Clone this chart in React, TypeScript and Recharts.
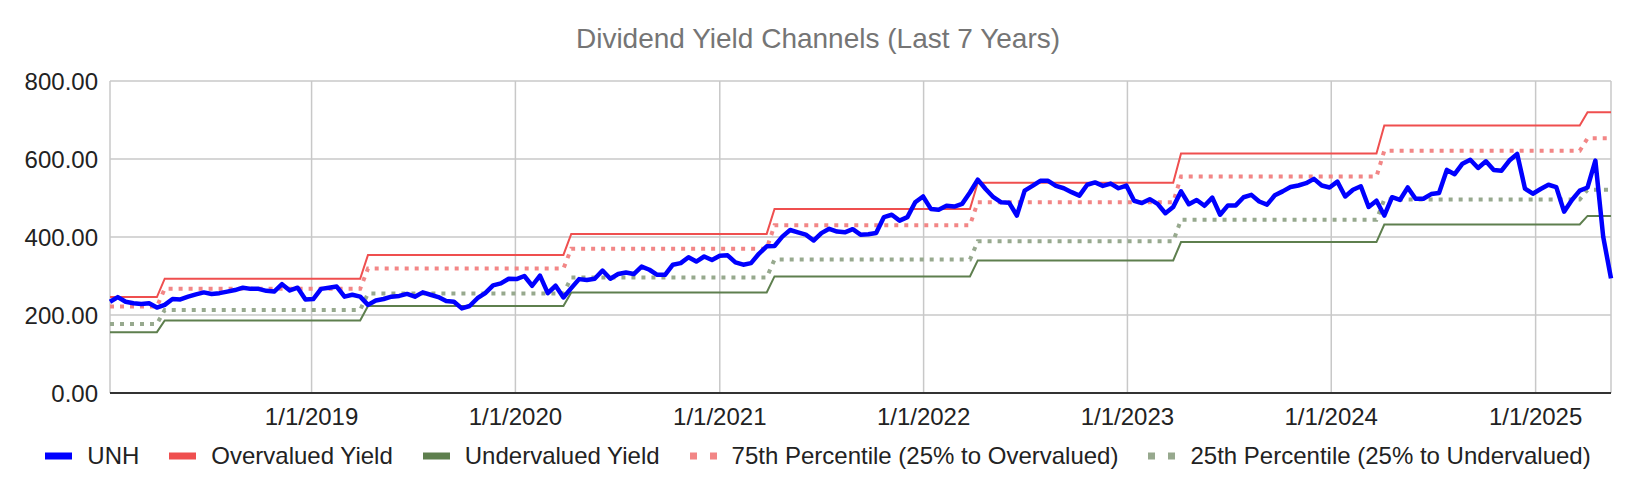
import { LineChart, Line, XAxis, YAxis, CartesianGrid } from 'recharts';

// biweekly closes, first point 1/5/2018
const FIRST_DATE = Date.UTC(2018, 0, 5);
const DAY_MS = 86400000;
const INTERVAL_DAYS = 14;

const UNH = [
  234, 246, 234, 230, 228, 230, 219, 226, 241, 240, 247, 253, 258, 254, 256, 260, 264, 270, 267, 267,
  262, 260, 279, 263, 270, 240, 241, 267, 270, 273, 247, 252, 247, 226, 237, 241, 247, 249, 254, 247,
  258, 252, 246, 236, 234, 217, 223, 243, 256, 276, 281, 293, 292, 300, 275, 301, 256, 275, 245, 269,
  292, 290, 293, 314, 293, 305, 309, 305, 324, 316, 303, 303, 329, 333, 348, 337, 350, 341, 352, 353,
  335, 329, 333, 357, 376, 377, 401, 418, 412, 406, 391, 410, 421, 414, 412, 420, 406, 407, 410, 451,
  457, 442, 451, 489, 504, 472, 470, 480, 478, 485, 514, 547, 523, 502, 489, 488, 455, 519, 531, 544,
  544, 531, 525, 515, 506, 534, 540, 531, 537, 525, 532, 493, 487, 497, 485, 461, 477, 517, 484, 495,
  480, 501, 457, 481, 481, 502, 508, 491, 483, 507, 517, 528, 532, 538, 549, 532, 527, 542, 504, 521,
  530, 477, 493, 455, 502, 495, 527, 498, 498, 510, 513, 572, 561, 588, 598, 577, 594, 572, 570, 596,
  613, 524, 511, 523, 534, 528, 465, 495, 519, 527, 596, 401, 294,
];

// yield channel levels, each valid from its start date
const CHANNEL_STARTS = [
  '2018-01-05', '2018-04-13', '2019-04-12', '2020-04-10', '2021-04-09',
  '2022-04-08', '2023-04-07', '2024-04-05', '2025-04-04',
];
const OVERVALUED = [246, 293, 354, 408, 472, 539, 614, 686, 720];
const PCT_75 = [222, 267, 319, 370, 430, 489, 555, 621, 653];
const PCT_25 = [177, 213, 255, 296, 342, 389, 444, 496, 521];
const UNDERVALUED = [156, 186, 223, 258, 299, 340, 387, 432, 454];

const YEAR_TICKS = [2019, 2020, 2021, 2022, 2023, 2024, 2025].map((y) => Date.UTC(y, 0, 1));
const Y_TICKS = [0, 200, 400, 600, 800];

const FONT = '"Liberation Sans", Arial, sans-serif';

const COLORS = {
  unh: '#0000ff',
  over: '#ef4f4f',
  under: '#5e7f4e',
  p75: '#f28686',
  p25: '#97a98e',
};

const startTimes = CHANNEL_STARTS.map((d) => Date.parse(d + 'T00:00:00Z'));

const data = UNH.map((price, i) => {
  const t = FIRST_DATE + i * INTERVAL_DAYS * DAY_MS;
  let level = 0;
  startTimes.forEach((s, k) => {
    if (t >= s) level = k;
  });
  return {
    t,
    unh: price,
    over: OVERVALUED[level],
    under: UNDERVALUED[level],
    p75: PCT_75[level],
    p25: PCT_25[level],
  };
});

const LEGEND_ITEMS = [
  { label: 'UNH', color: COLORS.unh, dotted: false },
  { label: 'Overvalued Yield', color: COLORS.over, dotted: false },
  { label: 'Undervalued Yield', color: COLORS.under, dotted: false },
  { label: '75th Percentile (25% to Overvalued)', color: COLORS.p75, dotted: true },
  { label: '25th Percentile (25% to Undervalued)', color: COLORS.p25, dotted: true },
];

function formatDate(ms: number) {
  const d = new Date(ms);
  return `${d.getUTCMonth() + 1}/${d.getUTCDate()}/${d.getUTCFullYear()}`;
}

export default function App() {
  return (
    <div style={{ position: 'relative', width: 1636, height: 494, fontFamily: FONT, background: '#fff' }}>
      <style>{'body{margin:0}'}</style>
      <div
        style={{
          position: 'absolute',
          top: 25,
          left: 0,
          width: 1636,
          textAlign: 'center',
          fontSize: 28,
          lineHeight: '28px',
          color: '#757575',
        }}
      >
        Dividend Yield Channels (Last 7 Years)
      </div>

      <LineChart width={1636} height={494} data={data} margin={{ top: 81, right: 25, bottom: 61, left: 0 }}>
        <CartesianGrid stroke="#c8c8c8" strokeWidth={1.5} />
        <XAxis
          dataKey="t"
          type="number"
          scale="time"
          domain={['dataMin', 'dataMax']}
          ticks={YEAR_TICKS}
          interval={0}
          tickFormatter={formatDate}
          height={40}
          tickLine={false}
          tickSize={0}
          tickMargin={15}
          axisLine={{ stroke: '#333', strokeWidth: 2 }}
          tick={{ fill: '#222', fontSize: 24, fontFamily: FONT }}
        />
        <YAxis
          domain={[0, 800]}
          ticks={Y_TICKS}
          width={110}
          axisLine={false}
          tickLine={false}
          tickSize={0}
          tickMargin={12}
          tickFormatter={(v: number) => v.toFixed(2)}
          tick={{ fill: '#222', fontSize: 24, fontFamily: FONT }}
        />
        <Line type="linear" dataKey="over" stroke={COLORS.over} strokeWidth={2} dot={false} activeDot={false} isAnimationActive={false} />
        <Line type="linear" dataKey="under" stroke={COLORS.under} strokeWidth={2} dot={false} activeDot={false} isAnimationActive={false} />
        <Line type="linear" dataKey="p75" stroke={COLORS.p75} strokeWidth={4} strokeDasharray="4 6" dot={false} activeDot={false} isAnimationActive={false} />
        <Line type="linear" dataKey="p25" stroke={COLORS.p25} strokeWidth={4} strokeDasharray="4 6" dot={false} activeDot={false} isAnimationActive={false} />
        <Line type="linear" dataKey="unh" stroke={COLORS.unh} strokeWidth={4.5} strokeLinejoin="round" dot={false} activeDot={false} isAnimationActive={false} />
      </LineChart>

      <div
        style={{
          position: 'absolute',
          top: 444,
          left: 0,
          width: 1636,
          display: 'flex',
          justifyContent: 'center',
          alignItems: 'center',
          fontSize: 24,
          lineHeight: '24px',
          color: '#222',
        }}
      >
        {LEGEND_ITEMS.map((item, i) => (
          <div key={item.label} style={{ display: 'flex', alignItems: 'center', marginLeft: i === 0 ? 0 : 30 }}>
            <svg width={27} height={10} style={{ marginRight: 15 }}>
              <line
                x1={0}
                y1={5}
                x2={27}
                y2={5}
                stroke={item.color}
                strokeWidth={7}
                strokeDasharray={item.dotted ? '7 13' : undefined}
              />
            </svg>
            <span>{item.label}</span>
          </div>
        ))}
      </div>
    </div>
  );
}
